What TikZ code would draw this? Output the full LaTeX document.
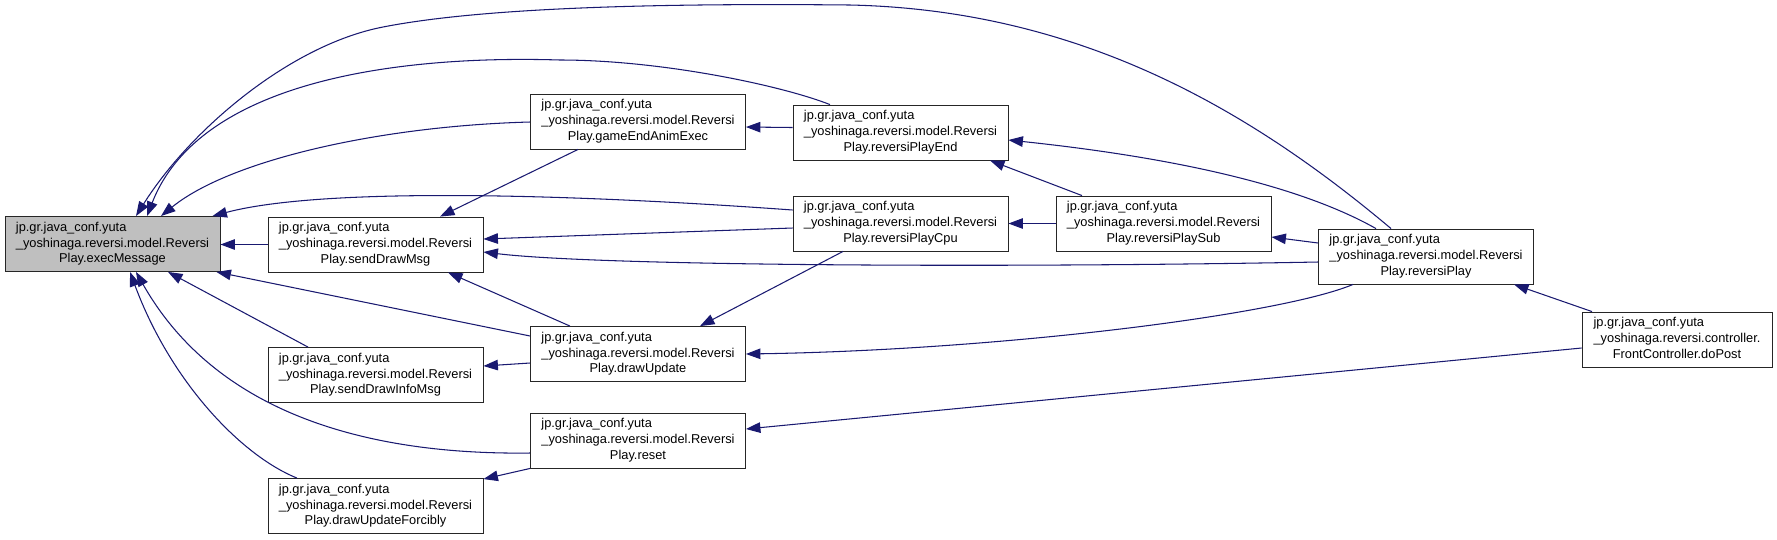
\documentclass[tikz,border=0pt]{standalone}
\usepackage{fontspec}
\setmainfont{Liberation Sans}
\usepackage{tikz}
\usetikzlibrary{arrows.meta, positioning, calc}
\usepackage{xcolor}
\definecolor{edgeblue}{RGB}{25, 25, 112}
\definecolor{focusgray}{RGB}{191, 191, 191}
\newcommand{\fnlabel}[3]{\begin{tabular}{@{}l@{}}#1\\#2\\\multicolumn{1}{@{}c@{}}{#3}\end{tabular}}
\newcommand{\rvsi}[1]{\fnlabel{jp.gr.java\_conf.yuta}{\_yoshinaga.reversi.model.Reversi}{Play.#1}}

\begin{document}
\begin{tikzpicture}[x=0.02cm, y=-0.02cm,
    fnbox/.style={draw=black!85, line width=0.5pt, fill=white, inner sep=0pt,
      minimum width=4.3cm, minimum height=1.1cm, font=\fontsize{7.3}{9}\selectfont},
    calledge/.style={edgeblue, line width=0.6pt, -{Triangle[length=0.29cm, width=0.21cm]}}]
        \useasboundingbox (0,0) rectangle (1777,539);
        % functions, column by column
        \node[fnbox, fill=focusgray] (execMsg) at (112.5,244) {\rvsi{execMessage}};
        \node[fnbox] (sendDrawMsg) at (375.5,244.5) {\rvsi{sendDrawMsg}};
        \node[fnbox] (sendDrawInfoMsg) at (375.5,375) {\rvsi{sendDrawInfoMsg}};
        \node[fnbox] (drawUpdForcibly) at (375.5,506) {\rvsi{drawUpdateForcibly}};
        \node[fnbox] (gameEndAnim) at (638,121.5) {\rvsi{gameEndAnimExec}};
        \node[fnbox] (drawUpd) at (638,354) {\rvsi{drawUpdate}};
        \node[fnbox] (resetFn) at (638,440.5) {\rvsi{reset}};
        \node[fnbox] (playEnd) at (900.5,132.5) {\rvsi{reversiPlayEnd}};
        \node[fnbox] (playCpu) at (900.5,223.5) {\rvsi{reversiPlayCpu}};
        \node[fnbox] (playSub) at (1163.5,223.5) {\rvsi{reversiPlaySub}};
        \node[fnbox] (playMain) at (1426,256.5) {\rvsi{reversiPlay}};
        \node[fnbox, minimum width=3.8cm] (doPost) at (1677,339.5)
            {\fnlabel{jp.gr.java\_conf.yuta}{\_yoshinaga.reversi.controller.}{FrontController.doPost}};
        % calls into execMessage
        \draw[calledge] (sendDrawMsg.west) -- (sendDrawMsg.west -| execMsg.east);
        \draw[calledge] ($(gameEndAnim.west)+(0,0.5)$)
            .. controls (380,126) and (230,160) .. ($(execMsg.north)+(48.5,0)$);
        \draw[calledge] ($(playEnd.north)+(-70.5,0)$)
            .. controls (780,85) and (660,60) .. (560,60)
            .. controls (400,55) and (200,80) .. ($(execMsg.north)+(34.5,0)$);
        \draw[calledge] ($(playMain.north)+(-35,0)$)
            .. controls (1250,110) and (1080,10) .. (850,5)
            .. controls (650,3) and (480,8) .. (383,27)
            .. controls (290,45) and (190,130) .. ($(execMsg.north)+(23.5,0)$);
        \draw[calledge] ($(playCpu.west)+(0,-13.5)$)
            .. controls (600,196) and (330,185) .. ($(execMsg.north east)+(-8,0)$);
        \draw[calledge] ($(drawUpd.west)+(0,-18)$) -- ($(execMsg.south east)+(-4,0)$);
        \draw[calledge] ($(sendDrawInfoMsg.north)+(-67.5,0)$) -- ($(execMsg.south)+(55.5,0)$);
        \draw[calledge] ($(resetFn.west)+(0,12.5)$)
            .. controls (380,455) and (220,420) .. ($(execMsg.south)+(23.5,0)$);
        \draw[calledge] ($(drawUpdForcibly.north)+(-78.5,0)$)
            .. controls (240,455) and (170,380) .. ($(execMsg.south)+(17.5,0)$);
        % calls into the second column
        \draw[calledge] ($(gameEndAnim.south)+(-60,0)$) -- ($(sendDrawMsg.north)+(64.5,0)$);
        \draw[calledge] ($(playCpu.west)+(0,4.5)$) -- ($(sendDrawMsg.east)+(0,-5.5)$);
        \draw[calledge] ($(playMain.west)+(0,5.5)$)
            .. controls (1000,268) and (600,266) .. ($(sendDrawMsg.east)+(0,7.5)$);
        \draw[calledge] ($(drawUpd.north)+(-68,0)$) -- ($(sendDrawMsg.south)+(72.5,0)$);
        \draw[calledge] ($(drawUpd.west)+(0,9)$) -- ($(sendDrawInfoMsg.east)+(0,-9)$);
        \draw[calledge] (resetFn.south west) -- ($(drawUpdForcibly.north east)+(0,1)$);
        % calls into the third column
        \draw[calledge] ($(playEnd.west)+(0,-5)$) -- ($(gameEndAnim.east)+(0,5.5)$);
        \draw[calledge] ($(playCpu.south)+(-57.5,0)$) -- ($(drawUpd.north)+(62,0)$);
        \draw[calledge] ($(playMain.south)+(-73,0)$)
            .. controls (1280,315) and (1000,350) .. (drawUpd.east);
        \draw[calledge] ($(doPost.west)+(0,8.5)$) -- ($(resetFn.east)+(0,-11.5)$);
        % calls on the right
        \draw[calledge] ($(playMain.north)+(-50,0)$)
            .. controls (1290,180) and (1150,155) .. ($(playEnd.east)+(0,7.5)$);
        \draw[calledge] ($(playSub.north)+(-81.5,0)$) -- ($(playEnd.south)+(89.5,0)$);
        \draw[calledge] (playSub.west) -- (playCpu.east);
        \draw[calledge] ($(playMain.west)+(0,-13.5)$) -- ($(playSub.east)+(0,13.5)$);
        \draw[calledge] ($(doPost.north)+(-85,0)$) -- ($(playMain.south)+(88,0)$);
      \end{tikzpicture}
\end{document}
